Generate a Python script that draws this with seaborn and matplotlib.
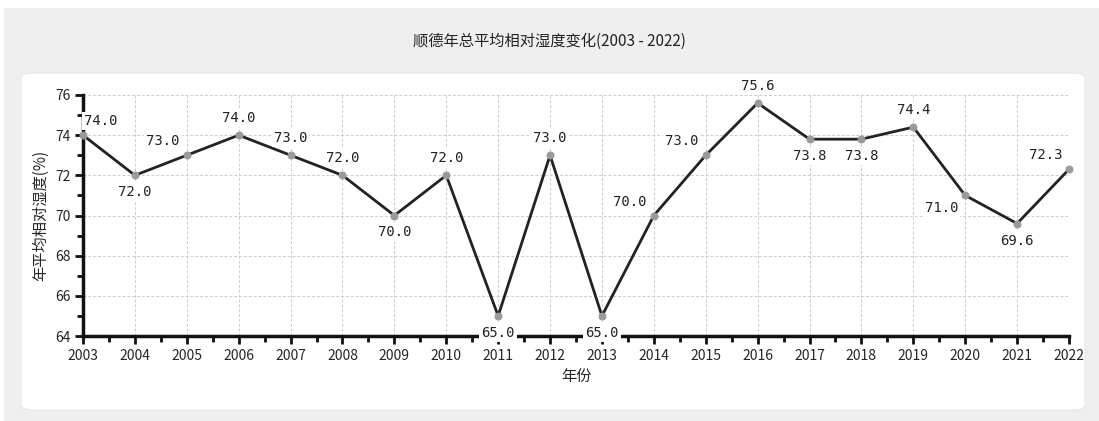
import matplotlib
matplotlib.use("Agg")
import matplotlib.pyplot as plt
import seaborn as sns
import pandas as pd
from matplotlib.patches import FancyBboxPatch, Rectangle
from matplotlib.ticker import MultipleLocator

years = list(range(2003, 2023))
humidity = [74.0, 72.0, 73.0, 74.0, 73.0, 72.0, 70.0, 72.0, 65.0, 73.0,
            65.0, 70.0, 73.0, 75.6, 73.8, 73.8, 74.4, 71.0, 69.6, 72.3]
# where each value label sits relative to its point
label_pos = ["ur", "b", "ul", "u", "u", "u", "b", "u", "b", "u",
             "b", "ul", "ul", "u", "b", "b", "u", "bl", "b", "ul"]

title = "顺德年总平均相对湿度变化(2003 - 2022)"
xlabel = "年份"
ylabel = "年平均相对湿度(%)"

df = pd.DataFrame({"year": years, "humidity": humidity})

sns.set_theme(style="white")
plt.rcParams["font.family"] = ["Noto Sans CJK SC", "DejaVu Sans"]

fig = plt.figure(figsize=(10.99, 4.21), dpi=100)
W, H = 1099, 421

# background panels
fig.patches.append(Rectangle((4 / W, 0), 1, 1 - 8 / H, transform=fig.transFigure,
                             facecolor="#efefef", edgecolor="none", zorder=-2))
fig.patches.append(FancyBboxPatch((21 / W, (H - 410) / H), 1064 / W, 337 / H,
                                  boxstyle="round,pad=0,rounding_size=0.012",
                                  transform=fig.transFigure, facecolor="white",
                                  edgecolor="#e8e8e8", lw=0.8, zorder=-1))

ax = fig.add_axes([83 / W, (H - 336) / H, (1069 - 83) / W, (336 - 95) / H])
ax.set_facecolor("none")

sns.lineplot(data=df, x="year", y="humidity", ax=ax, color="#222222", lw=2,
             marker="o", markersize=5, markerfacecolor="#9a9a9a",
             markeredgecolor="#9a9a9a", zorder=3, clip_on=False)

ax.set_xlim(2003, 2022)
ax.set_ylim(64, 76)
ax.xaxis.set_major_locator(MultipleLocator(1))
ax.xaxis.set_minor_locator(MultipleLocator(0.5))
ax.yaxis.set_major_locator(MultipleLocator(2))
ax.yaxis.set_minor_locator(MultipleLocator(1))
ax.grid(True, which="major", color="#cccccc", ls=(0, (3, 2)), lw=0.7)

for side in ["top", "right"]:
    ax.spines[side].set_visible(False)
for side in ["left", "bottom"]:
    ax.spines[side].set_linewidth(2.5)
    ax.spines[side].set_color("#111111")

ax.tick_params(axis="both", which="both", bottom=True, left=True,
               direction="out", color="#111111", width=2)
ax.tick_params(axis="both", which="major", length=6, labelsize=10, pad=3)
ax.tick_params(axis="both", which="minor", length=4)
ax.set_xticks(years)
ax.set_xticklabels([str(y) for y in years])

ax.set_xlabel(xlabel, fontsize=11, labelpad=4)
ax.set_ylabel(ylabel, fontsize=11, labelpad=4)

offs = {"u": (0, 10, "center", "bottom"), "b": (0, -10, "center", "top"),
        "ul": (-7, 7, "right", "bottom"), "ur": (1, 7, "left", "bottom"),
        "bl": (-7, -6, "right", "top")}
for x, y, p in zip(years, humidity, label_pos):
    dx, dy, ha, va = offs[p]
    ax.annotate(f"{y:.1f}", (x, y), xytext=(dx, dy), textcoords="offset pixels",
                ha=ha, va=va, fontsize=10, family="DejaVu Sans Mono",
                color="#222222", zorder=10, annotation_clip=False,
                bbox=dict(boxstyle="square,pad=0.15", facecolor="white",
                          edgecolor="none"))

fig.text(0.5, (H - 41) / H, title, ha="center", va="center", fontsize=11,
         color="#222222")

fig.savefig("out.png", dpi=100)
